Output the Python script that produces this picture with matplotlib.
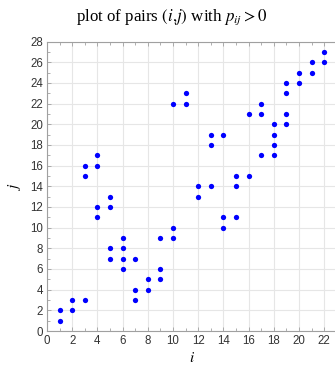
import matplotlib
matplotlib.use("Agg")
import matplotlib.pyplot as plt
from matplotlib.ticker import MultipleLocator

# pairs (i, j) with p_ij > 0
i_vals = [1, 1, 2, 2, 3, 3, 3, 4, 4, 4, 4, 5, 5, 5, 5, 6, 6, 6, 6,
          7, 7, 7, 8, 8, 9, 9, 9, 10, 10, 10, 11, 11, 12, 12,
          13, 13, 13, 14, 14, 14, 15, 15, 15, 16, 16, 17, 17, 17,
          18, 18, 18, 18, 19, 19, 19, 19, 20, 20, 21, 21, 22, 22]
j_vals = [1, 2, 2, 3, 3, 15, 16, 11, 12, 16, 17, 7, 8, 12, 13, 6, 7, 8, 9,
          3, 4, 7, 4, 5, 5, 6, 9, 9, 10, 22, 22, 23, 13, 14,
          14, 18, 19, 10, 11, 19, 11, 14, 15, 15, 21, 17, 21, 22,
          17, 18, 19, 20, 20, 21, 23, 24, 24, 25, 25, 26, 26, 27]

plt.rcParams["mathtext.fontset"] = "stix"

fig = plt.figure(figsize=(3.35, 3.66), dpi=100)
ax = fig.add_axes([47 / 335, 1 - 331 / 366, (335 - 47 + 2) / 335, (331 - 41.5) / 366])

ax.plot(i_vals, j_vals, "o", color="#0000ff", markersize=3.8, markeredgewidth=0)

ax.set_xlim(0, 22 * 290 / 277.3)
ax.set_ylim(0, 28)
ax.xaxis.set_major_locator(MultipleLocator(2))
ax.yaxis.set_major_locator(MultipleLocator(2))
ax.xaxis.set_minor_locator(MultipleLocator(1))
ax.yaxis.set_minor_locator(MultipleLocator(1))

ax.grid(True, which="major", color="#e6e6e6", linewidth=0.8)
ax.set_axisbelow(True)

for side in ("left", "bottom", "top"):
    ax.spines[side].set_color("#a0a0a0")
    ax.spines[side].set_linewidth(0.8)
ax.spines["right"].set_visible(False)

ax.tick_params(which="both", direction="in", top=True, right=False,
               color="#a0a0a0", width=0.6)
ax.tick_params(which="major", length=3, labelsize=8.3, labelcolor="#333333", pad=3)
ax.tick_params(which="minor", length=2)
for lab in ax.get_xticklabels() + ax.get_yticklabels():
    lab.set_family("Liberation Sans")

ax.set_xlabel("$i$", fontsize=11, labelpad=2)
ax.set_ylabel("$j$", fontsize=11, labelpad=5)

fig.text(172 / 335, 1 - 17 / 366, r"plot of pairs $(i{,}j)$ with $p_{ij} > 0$",
         ha="center", va="center", fontsize=12.2, family="Liberation Serif")

fig.savefig("out.png", dpi=100)
